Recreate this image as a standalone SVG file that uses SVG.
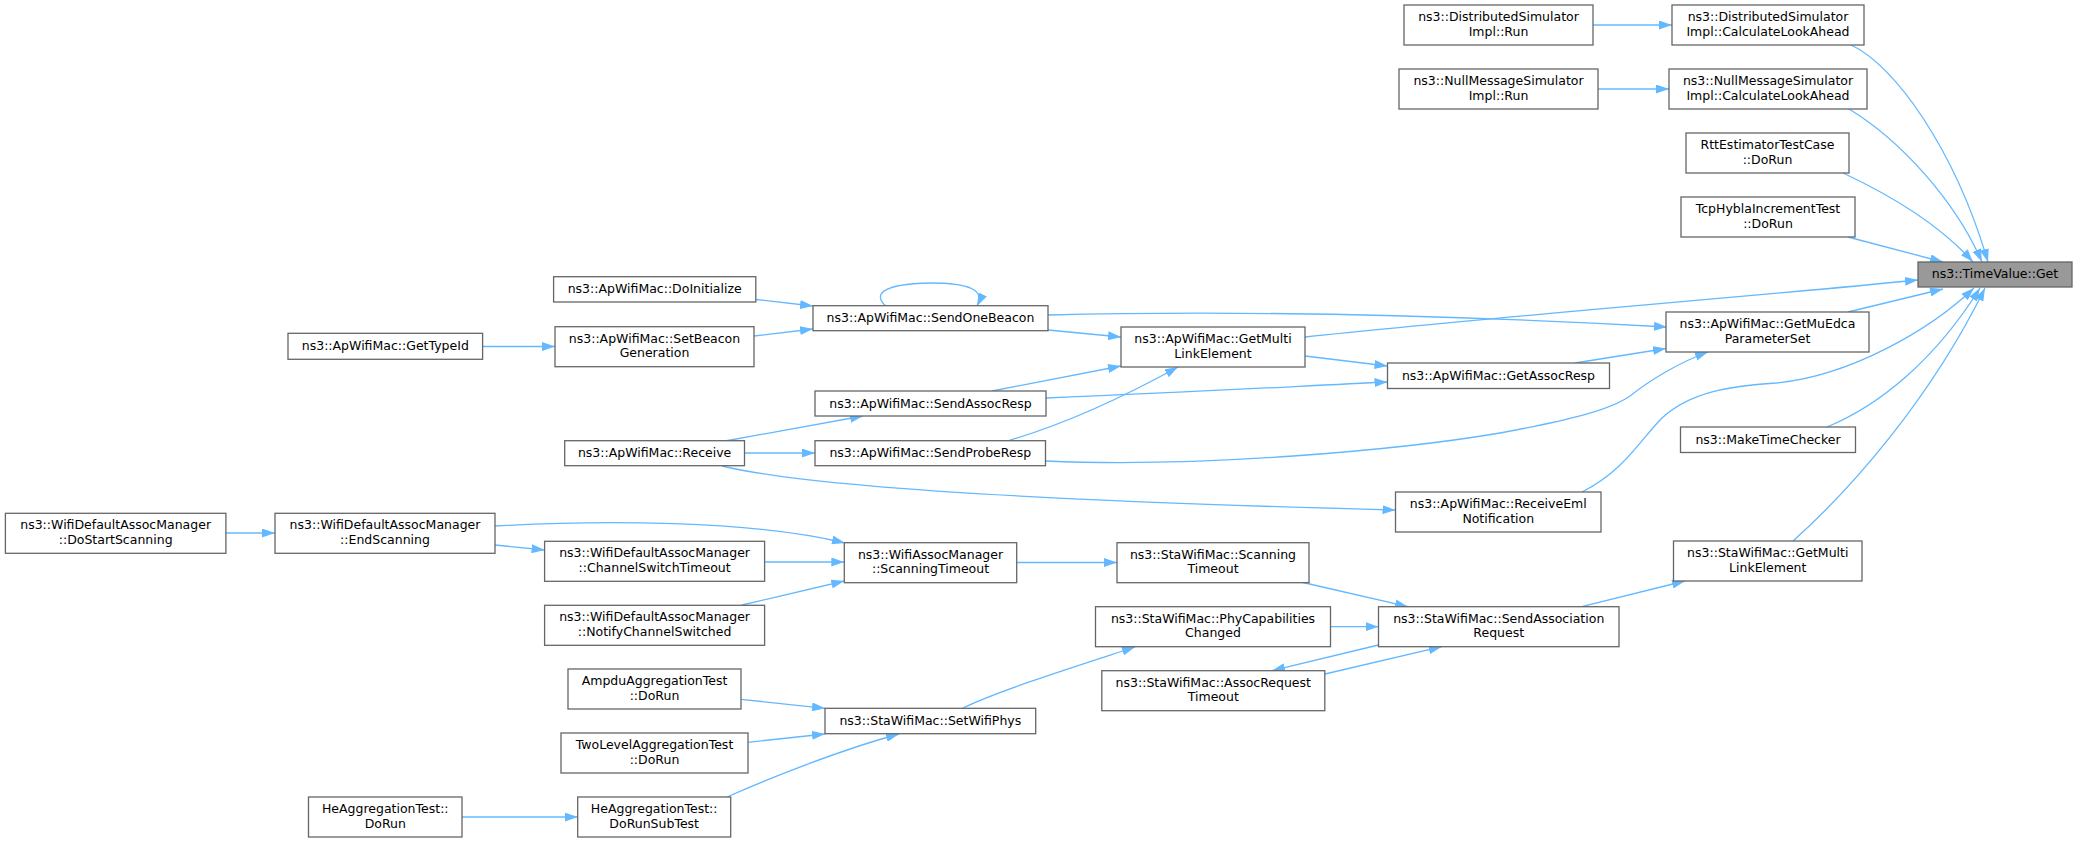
<svg xmlns="http://www.w3.org/2000/svg" width="2077" height="843" viewBox="0 0 2077 843">
<style>
.node rect{fill:#ffffff;stroke:#666666;stroke-width:1.3}
.node.hl rect{fill:#999999}
.node text{font-family:"DejaVu Sans","Liberation Sans",sans-serif;font-size:12.5px;text-anchor:middle;fill:#000000}
.edges path{fill:none;stroke:#63b8ff;stroke-width:1.3;marker-end:url(#arr)}
</style>
<defs>
<marker id="arr" markerUnits="userSpaceOnUse" markerWidth="13" markerHeight="9" viewBox="0 0 13 9" refX="13" refY="4.5" orient="auto">
<path d="M0,0L13,4.5L0,9z" fill="#63b8ff"/>
</marker>
</defs>
<rect x="0" y="0" width="2077" height="843" fill="#ffffff"/>
<g class="edges" id="edges">
<path d="M1593,25L1672,25"/>
<path d="M1598,89L1669,89"/>
<path d="M1851,45C1895,65 1955,150 1988,262"/>
<path d="M1849,109C1900,140 1955,200 1982,262"/>
<path d="M1843,173C1890,195 1940,225 1973,262"/>
<path d="M1848,237L1943,262"/>
<path d="M1305,337C1500,316 1750,297 1918,280"/>
<path d="M1848,312L1943,289"/>
<path d="M1582,492C1625,470 1640,440 1662,418C1690,392 1730,386 1776,383C1850,376 1930,330 1974,288"/>
<path d="M1827,427C1880,405 1935,360 1980,288"/>
<path d="M1793,541C1850,490 1930,400 1985,288"/>
<path d="M1305,356L1387.5,366"/>
<path d="M1046,398C1200,392 1300,386 1387.5,382"/>
<path d="M1575,363L1666,348.5"/>
<path d="M886,306C874,296 878,284 930,283C970,283 985,290 977,306"/>
<path d="M756,299.5L813,306"/>
<path d="M754,336L813,329"/>
<path d="M482.6,346.5L555,346.5"/>
<path d="M1048,330L1121,337"/>
<path d="M1048,315C1250,310 1450,315 1667,327"/>
<path d="M992,391L1121,366"/>
<path d="M1007,441C1045,430 1100,410 1178,367"/>
<path d="M1046,461C1200,468 1400,450 1500,433C1570,420 1610,410 1630,396C1650,380 1680,362 1708,352"/>
<path d="M725,441L863,416"/>
<path d="M744.5,453L815,453"/>
<path d="M722,466C800,485 1000,500 1395.5,510"/>
<path d="M226,533L275,533"/>
<path d="M495,545L544.6,550"/>
<path d="M495,526C600,520 750,520 845,543"/>
<path d="M764.5,562L844.3,562"/>
<path d="M742,605L844.3,581"/>
<path d="M1016.7,562.5L1117,562.5"/>
<path d="M1303,582.5L1408,606.7"/>
<path d="M1330.7,626.7L1378.5,626.7"/>
<path d="M1378.5,645L1272,670.7"/>
<path d="M1325,674L1441.7,646.7"/>
<path d="M1581.7,606.7L1685,581"/>
<path d="M963,708C1000,690 1080,665 1135,647"/>
<path d="M741,699.3L825,708.3"/>
<path d="M747.8,742.3L825,734"/>
<path d="M727,797C770,778 840,750 899,734"/>
<path d="M462,817L577.7,817"/>
</g>
<g class="node hl" id="n_timevalue_get"><rect x="1918" y="262" width="154" height="25"/><text x="1995" y="278">ns3::TimeValue::Get</text></g>
<g class="node" id="n_dist_cla"><rect x="1672" y="5" width="192" height="40"/><text x="1768" y="21">ns3::DistributedSimulator</text><text x="1768" y="35.5">Impl::CalculateLookAhead</text></g>
<g class="node" id="n_dist_run"><rect x="1404" y="5" width="189" height="40"/><text x="1498.5" y="21">ns3::DistributedSimulator</text><text x="1498.5" y="35.5">Impl::Run</text></g>
<g class="node" id="n_null_cla"><rect x="1669" y="69" width="198" height="40"/><text x="1768" y="85">ns3::NullMessageSimulator</text><text x="1768" y="99.5">Impl::CalculateLookAhead</text></g>
<g class="node" id="n_null_run"><rect x="1399" y="69" width="199" height="40"/><text x="1498.5" y="85">ns3::NullMessageSimulator</text><text x="1498.5" y="99.5">Impl::Run</text></g>
<g class="node" id="n_rtt"><rect x="1686" y="133" width="163" height="40"/><text x="1767.5" y="149">RttEstimatorTestCase</text><text x="1767.5" y="163.5">::DoRun</text></g>
<g class="node" id="n_tcp"><rect x="1681" y="197" width="174" height="40"/><text x="1768" y="213">TcpHyblaIncrementTest</text><text x="1768" y="227.5">::DoRun</text></g>
<g class="node" id="n_mu_edca"><rect x="1666" y="312" width="203" height="40"/><text x="1767.5" y="328">ns3::ApWifiMac::GetMuEdca</text><text x="1767.5" y="342.5">ParameterSet</text></g>
<g class="node" id="n_assoc_resp"><rect x="1387.5" y="363" width="222" height="25.5"/><text x="1498.5" y="379.5">ns3::ApWifiMac::GetAssocResp</text></g>
<g class="node" id="n_make_time_checker"><rect x="1680.5" y="427" width="175" height="25.5"/><text x="1768" y="443.5">ns3::MakeTimeChecker</text></g>
<g class="node" id="n_receive_eml"><rect x="1395.5" y="492" width="205.5" height="40"/><text x="1498.25" y="508">ns3::ApWifiMac::ReceiveEml</text><text x="1498.25" y="522.5">Notification</text></g>
<g class="node" id="n_sta_get_multi"><rect x="1673.5" y="541" width="188.5" height="40"/><text x="1767.75" y="557">ns3::StaWifiMac::GetMulti</text><text x="1767.75" y="571.5">LinkElement</text></g>
<g class="node" id="n_send_assoc_req"><rect x="1378.5" y="606.7" width="240.5" height="40"/><text x="1498.75" y="622.7">ns3::StaWifiMac::SendAssociation</text><text x="1498.75" y="637.2">Request</text></g>
<g class="node" id="n_ap_get_multi"><rect x="1121" y="327" width="184" height="40"/><text x="1213" y="343">ns3::ApWifiMac::GetMulti</text><text x="1213" y="357.5">LinkElement</text></g>
<g class="node" id="n_send_one_beacon"><rect x="813" y="305.7" width="235" height="25"/><text x="930.5" y="322">ns3::ApWifiMac::SendOneBeacon</text></g>
<g class="node" id="n_send_assoc_resp"><rect x="815" y="391" width="231" height="25"/><text x="930.5" y="407.5">ns3::ApWifiMac::SendAssocResp</text></g>
<g class="node" id="n_send_probe_resp"><rect x="815" y="440.7" width="230.5" height="25"/><text x="930.25" y="457">ns3::ApWifiMac::SendProbeResp</text></g>
<g class="node" id="n_receive"><rect x="564.7" y="440.7" width="179.8" height="25"/><text x="654.6" y="457">ns3::ApWifiMac::Receive</text></g>
<g class="node" id="n_do_initialize"><rect x="553.6" y="276.7" width="202.2" height="25.3"/><text x="654.7" y="293">ns3::ApWifiMac::DoInitialize</text></g>
<g class="node" id="n_set_beacon"><rect x="555" y="326.7" width="199" height="40"/><text x="654.5" y="342.7">ns3::ApWifiMac::SetBeacon</text><text x="654.5" y="357.2">Generation</text></g>
<g class="node" id="n_get_type_id"><rect x="288" y="333.3" width="194.6" height="26"/><text x="385.3" y="350">ns3::ApWifiMac::GetTypeId</text></g>
<g class="node" id="n_scanning_timeout"><rect x="844.3" y="542.7" width="172.4" height="40"/><text x="930.5" y="558.7">ns3::WifiAssocManager</text><text x="930.5" y="573.2">::ScanningTimeout</text></g>
<g class="node" id="n_sta_scanning"><rect x="1117" y="542.7" width="192" height="40"/><text x="1213" y="558.7">ns3::StaWifiMac::Scanning</text><text x="1213" y="573.2">Timeout</text></g>
<g class="node" id="n_end_scanning"><rect x="275" y="513.3" width="220" height="40"/><text x="385" y="529.3">ns3::WifiDefaultAssocManager</text><text x="385" y="543.8">::EndScanning</text></g>
<g class="node" id="n_do_start_scanning"><rect x="5.4" y="513.3" width="220.5" height="40"/><text x="115.65" y="529.3">ns3::WifiDefaultAssocManager</text><text x="115.65" y="543.8">::DoStartScanning</text></g>
<g class="node" id="n_channel_switch"><rect x="544.6" y="541.3" width="220" height="40"/><text x="654.6" y="557.3">ns3::WifiDefaultAssocManager</text><text x="654.6" y="571.8">::ChannelSwitchTimeout</text></g>
<g class="node" id="n_notify"><rect x="544.6" y="605.3" width="220" height="40"/><text x="654.6" y="621.3">ns3::WifiDefaultAssocManager</text><text x="654.6" y="635.8">::NotifyChannelSwitched</text></g>
<g class="node" id="n_phy_cap"><rect x="1095.5" y="606.7" width="235" height="40"/><text x="1213" y="622.7">ns3::StaWifiMac::PhyCapabilities</text><text x="1213" y="637.2">Changed</text></g>
<g class="node" id="n_assoc_req_timeout"><rect x="1101.8" y="670.7" width="223" height="40"/><text x="1213.3" y="686.7">ns3::StaWifiMac::AssocRequest</text><text x="1213.3" y="701.2">Timeout</text></g>
<g class="node" id="n_set_wifi_phys"><rect x="825" y="708.3" width="210.7" height="25.4"/><text x="930.35" y="725">ns3::StaWifiMac::SetWifiPhys</text></g>
<g class="node" id="n_ampdu"><rect x="568" y="669" width="173" height="40"/><text x="654.5" y="685">AmpduAggregationTest</text><text x="654.5" y="699.5">::DoRun</text></g>
<g class="node" id="n_two_level"><rect x="561" y="733" width="187" height="40"/><text x="654.5" y="749">TwoLevelAggregationTest</text><text x="654.5" y="763.5">::DoRun</text></g>
<g class="node" id="n_he_do_run"><rect x="308.5" y="797" width="153.5" height="40"/><text x="385.25" y="813">HeAggregationTest::</text><text x="385.25" y="827.5">DoRun</text></g>
<g class="node" id="n_he_sub_test"><rect x="577.7" y="797" width="153" height="40"/><text x="654.2" y="813">HeAggregationTest::</text><text x="654.2" y="827.5">DoRunSubTest</text></g>
</svg>
